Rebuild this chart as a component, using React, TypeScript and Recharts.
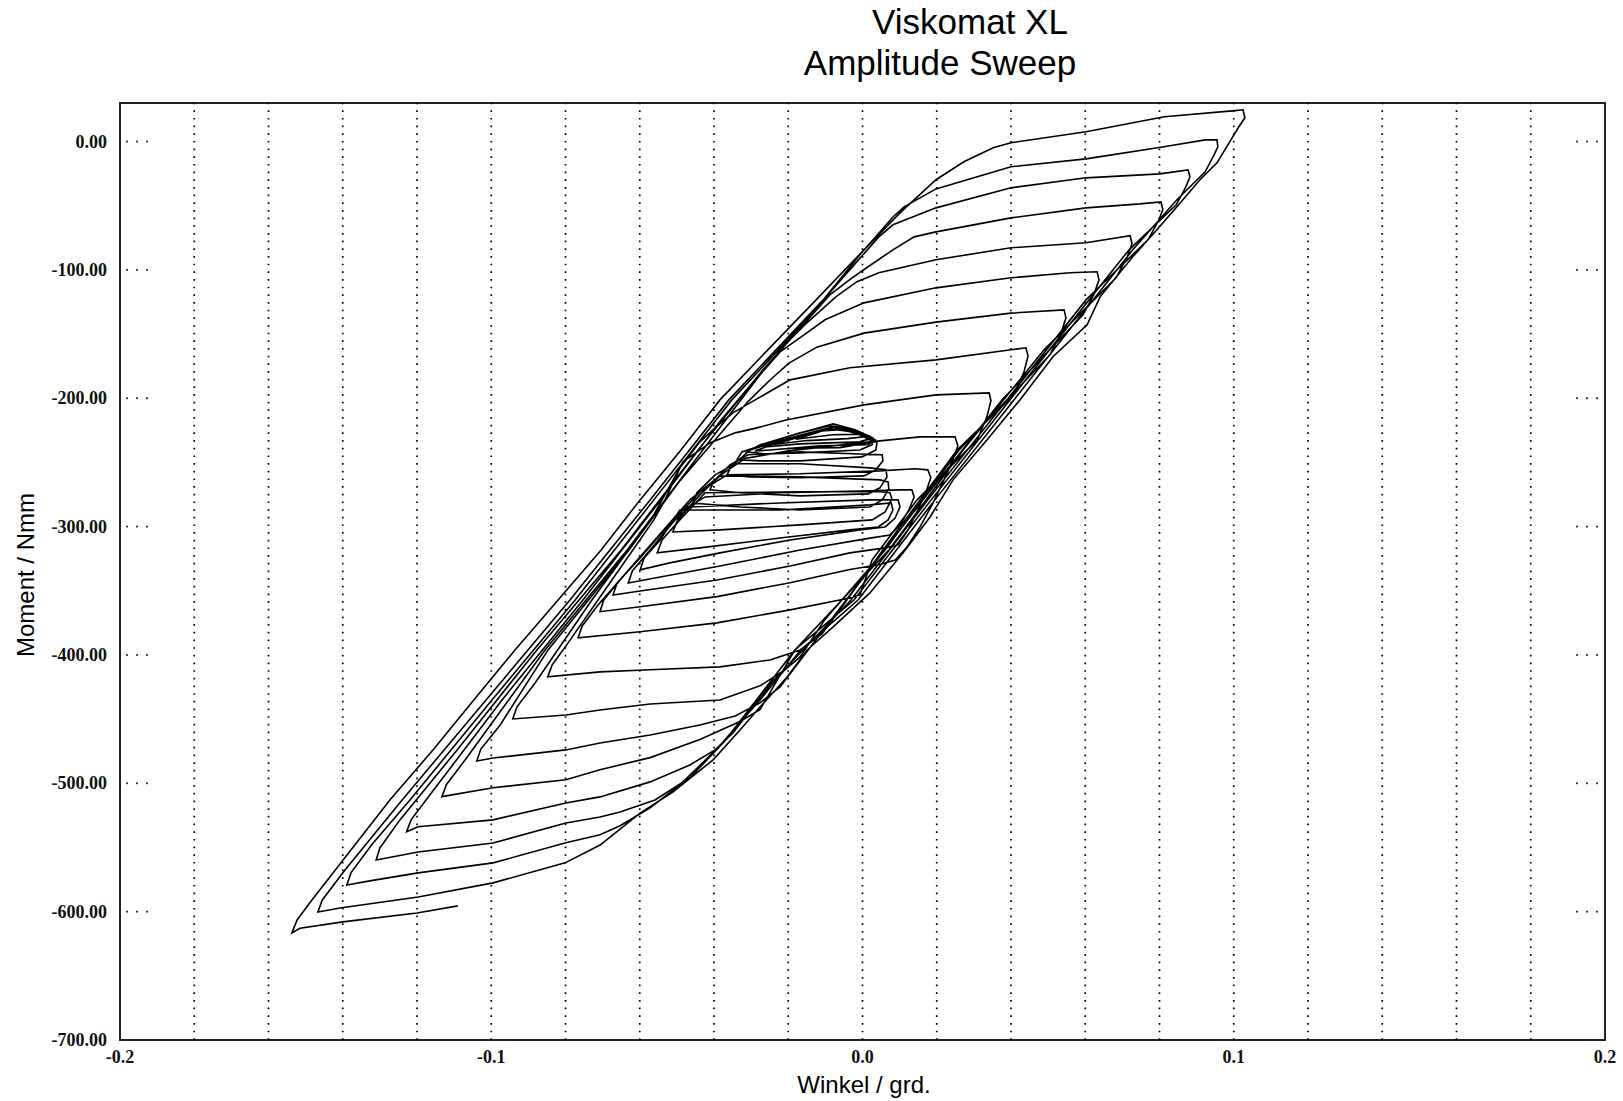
import { LineChart, Line, XAxis, YAxis, ReferenceLine, ReferenceArea } from "recharts"

// Winkel (grd.) / Moment (Nmm) pairs, one array per cycle
type Pt = [number, number]

const leadIn: Pt[] = [[-0.109, -595.5], [-0.12, -601.0], [-0.14, -608.0], [-0.1515, -612.9]]

const loop1: Pt[] = [
  [-0.1537, -616.6], [-0.1523, -606.5], [-0.1483, -590.9], [-0.1378, -551.9], [-0.1273, -513.0], [-0.1157, -474.0],
  [-0.1047, -435.1], [-0.0936, -396.1], [-0.082, -357.2], [-0.0704, -318.2], [-0.0599, -279.2], [-0.0489, -240.3],
  [-0.0384, -201.3], [-0.0255, -162.3], [-0.0125, -123.4], [0.0004, -84.4], [0.0101, -55.6], [0.0198, -29.8],
  [0.0273, -15.8], [0.0352, -4.9], [0.04, -1.0], [0.0602, 7.6], [0.0813, 19.3], [0.0996, 23.9], [0.1025, 24.7],
  [0.103, 18.5], [0.1012, 10.7], [0.0955, -16.6], [0.0909, -29.8], [0.0847, -50.9], [0.0793, -68.8], [0.0728, -89.8],
  [0.064, -121.0], [0.0605, -142.8], [0.0513, -167.7], [0.0424, -201.3], [0.0335, -232.5], [0.0244, -263.6],
  [0.0182, -292.5], [0.0109, -320.5], [0.002, -351.7], [-0.0079, -378.2], [-0.0149, -396.1], [-0.0203, -417.2],
  [-0.0276, -440.6], [-0.033, -458.5], [-0.0403, -481.9], [-0.0511, -506.8], [-0.0599, -523.2], [-0.0707, -548.1],
  [-0.0801, -562.0], [-0.0995, -577.6], [-0.1197, -588.6], [-0.1407, -597.2],
]

const loop2: Pt[] = [
  [-0.1467, -600.3], [-0.1455, -590.9], [-0.1394, -567.5], [-0.124, -513.0], [-0.1014, -435.1], [-0.0788, -357.2],
  [-0.0572, -279.2], [-0.036, -201.3], [-0.0106, -123.4], [-0.0007, -88.3], [0.0082, -58.8], [0.0112, -50.9],
  [0.0198, -36.9], [0.04, -19.7], [0.0602, -13.5], [0.0812, -4.1], [0.0923, 1.3], [0.0955, 1.3], [0.0957, -4.1],
  [0.0947, -10.4], [0.0923, -23.6], [0.0847, -45.4], [0.0728, -84.4], [0.0621, -123.4], [0.0408, -201.3],
  [0.0195, -279.2], [-0.0012, -357.2], [-0.0166, -396.1], [-0.0276, -435.1], [-0.0395, -474.0], [-0.0492, -501.2],
  [-0.0572, -519.1], [-0.0653, -533.1], [-0.0707, -540.1], [-0.0799, -546.4], [-0.0995, -562.0], [-0.1197, -569.8],
  [-0.1327, -576.0],
]

const loop3: Pt[] = [
  [-0.1389, -579.2], [-0.1378, -569.8], [-0.1322, -547.9], [-0.1219, -513.0], [-0.0998, -435.1], [-0.0774, -357.2],
  [-0.0562, -279.2], [-0.0352, -201.3], [-0.0176, -146.7], [-0.0034, -99.8], [0.0044, -74.3], [0.0082, -64.9],
  [0.0198, -51.7], [0.04, -36.1], [0.0602, -28.3], [0.0801, -25.2], [0.0877, -22.1], [0.0882, -27.5], [0.0871, -35.3],
  [0.0845, -49.3], [0.0718, -84.4], [0.061, -123.4], [0.0397, -201.3], [0.0185, -279.2], [-0.0023, -357.2],
  [-0.0182, -396.1], [-0.0286, -435.1], [-0.0373, -467.9], [-0.0465, -495.7], [-0.0559, -513.0], [-0.0653, -522.4],
  [-0.0707, -526.2], [-0.0799, -530.9], [-0.0995, -546.5], [-0.1197, -553.5],
]

const loop4: Pt[] = [
  [-0.131, -559.7], [-0.13, -550.4], [-0.1246, -528.5], [-0.1092, -474.0], [-0.0877, -396.1], [-0.065, -318.2],
  [-0.0443, -240.3], [-0.0268, -177.9], [-0.0088, -119.5], [-0.0028, -106.2], [0.0015, -97.6], [0.0082, -84.4],
  [0.0139, -74.3], [0.0198, -70.4], [0.04, -59.5], [0.0602, -51.7], [0.0747, -48.6], [0.0804, -47.0], [0.0809, -53.2],
  [0.0796, -62.5], [0.0769, -76.6], [0.0602, -123.4], [0.0389, -201.3], [0.0176, -279.2], [-0.0031, -357.2],
  [-0.0241, -420.4], [-0.0349, -460.7], [-0.0397, -474.0], [-0.0465, -485.7], [-0.0572, -498.9], [-0.0707, -510.6],
  [-0.0799, -515.3], [-0.0995, -528.5], [-0.1197, -533.9],
]

const loop5: Pt[] = [
  [-0.1228, -537.8], [-0.1216, -528.5], [-0.1165, -509.0], [-0.0971, -435.1], [-0.0753, -357.2], [-0.0543, -279.2],
  [-0.0381, -216.9], [-0.0209, -158.3], [-0.0155, -142.7], [-0.0071, -120.9], [-0.0015, -109.2], [0.0044, -102.2],
  [0.0198, -92.1], [0.04, -82.8], [0.0602, -78.9], [0.0721, -73.4], [0.0726, -79.7], [0.0712, -90.7], [0.0683, -106.2],
  [0.0489, -162.3], [0.0271, -240.3], [0.0071, -318.2], [-0.0182, -396.1], [-0.0276, -442.6], [-0.033, -451.9],
  [-0.0438, -465.9], [-0.0572, -480.0], [-0.0707, -489.4], [-0.0799, -497.2], [-0.0995, -503.5],
]

const loop6: Pt[] = [
  [-0.1133, -510.4], [-0.1121, -501.1], [-0.107, -481.6], [-0.0855, -396.1], [-0.0634, -318.2], [-0.043, -240.3],
  [-0.0276, -181.8], [-0.0222, -163.9], [-0.015, -149.1], [-0.0101, -138.9], [0.0004, -125.7], [0.0198, -114.0],
  [0.04, -106.2], [0.0559, -102.3], [0.0632, -101.5], [0.0637, -107.8], [0.0624, -118.7], [0.0594, -135.0],
  [0.0376, -201.3], [0.0163, -279.2], [-0.0044, -357.2], [-0.0222, -424.9], [-0.0276, -437.4], [-0.0343, -447.5],
  [-0.0438, -454.6], [-0.0572, -462.4], [-0.0707, -468.6], [-0.0799, -474.0], [-0.0995, -480.3],
]

const loop7: Pt[] = [
  [-0.1039, -482.6], [-0.1028, -473.3], [-0.0976, -454.6], [-0.0847, -396.1], [-0.0629, -318.2], [-0.0492, -264.4],
  [-0.0309, -202.8], [-0.0249, -185.8], [-0.0198, -172.6], [-0.0123, -160.2], [0.0004, -149.3], [0.0198, -140.7],
  [0.04, -133.7], [0.0543, -131.2], [0.0548, -137.4], [0.0535, -149.1], [0.0505, -166.2], [0.026, -240.3],
  [0.0061, -318.2], [-0.0101, -372.3], [-0.0168, -401.5], [-0.0209, -411.6], [-0.0276, -424.1], [-0.0384, -435.1],
  [-0.0572, -438.2], [-0.0707, -442.9], [-0.0799, -446.8],
]

const loop8: Pt[] = [
  [-0.0942, -449.9], [-0.0931, -440.6], [-0.0882, -421.9], [-0.0729, -357.2], [-0.057, -294.8], [-0.0492, -254.3],
  [-0.0438, -234.0], [-0.0397, -223.1], [-0.0349, -211.4], [-0.0303, -203.6], [-0.0195, -185.7], [-0.0034, -176.3],
  [0.0198, -170.1], [0.04, -162.3], [0.044, -160.7], [0.0446, -167.0], [0.0435, -179.5], [0.0408, -197.4],
  [0.0255, -240.3], [0.0055, -318.2], [-0.0061, -364.9], [-0.0109, -383.6], [-0.0168, -396.1], [-0.0249, -403.9],
  [-0.0384, -409.3], [-0.0572, -411.6], [-0.0707, -413.2],
]

const loop9: Pt[] = [
  [-0.0848, -417.1], [-0.0836, -407.8], [-0.0793, -390.6], [-0.0675, -341.6], [-0.0562, -294.8], [-0.0532, -279.2],
  [-0.0484, -249.6], [-0.0411, -234.8], [-0.0343, -227.0], [-0.0284, -223.1], [-0.0206, -216.9], [0.0004, -205.2],
  [0.0198, -197.4], [0.0341, -195.8], [0.0346, -202.0], [0.0335, -214.5], [0.0309, -232.5], [0.0147, -279.2],
  [0.0026, -326.0], [-0.0007, -353.2], [-0.0034, -355.6], [-0.0195, -364.9], [-0.0392, -375.0], [-0.0599, -382.0],
]

const loop10: Pt[] = [
  [-0.0766, -386.7], [-0.0755, -377.4], [-0.0712, -361.0], [-0.0599, -323.5], [-0.0465, -279.2], [-0.0384, -260.3],
  [-0.0317, -247.0], [-0.0195, -240.8], [0.002, -234.0], [0.0155, -230.1], [0.0249, -230.1], [0.0257, -237.1],
  [0.0241, -249.6], [0.0217, -265.2], [0.019, -281.6], [0.0155, -300.3], [0.012, -315.9], [0.0088, -326.0],
  [0.0047, -329.6], [-0.0034, -333.5], [-0.0195, -343.7], [-0.0392, -354.6], [-0.0599, -362.4],
]

const loop11: Pt[] = [
  [-0.0707, -366.3], [-0.0697, -357.2], [-0.0653, -341.6], [-0.0545, -306.5], [-0.0438, -273.0], [-0.0365, -259.7],
  [-0.0168, -258.9], [0.0047, -256.6], [0.0141, -255.0], [0.0176, -255.8], [0.0184, -262.0], [0.0171, -272.9],
  [0.0149, -286.9], [0.0123, -302.5], [0.0096, -314.2], [0.0061, -316.6], [-0.0034, -320.5], [-0.0195, -330.7],
  [-0.0392, -341.6], [-0.0599, -350.2],
]

const loop12: Pt[] = [
  [-0.0672, -353.3], [-0.0661, -343.9], [-0.0599, -324.4], [-0.0492, -288.6], [-0.0424, -276.9], [-0.0222, -273.7],
  [0.002, -272.2], [0.0101, -271.4], [0.0133, -271.4], [0.0139, -276.9], [0.0125, -287.0], [0.0101, -298.7],
  [0.0074, -306.5], [0.002, -309.0], [-0.0168, -318.3], [-0.0384, -330.7], [-0.0545, -339.3],
]

const loop13: Pt[] = [
  [-0.0631, -344.0], [-0.062, -334.6], [-0.0572, -318.3], [-0.0505, -294.8], [-0.0465, -284.7], [-0.0222, -281.6],
  [0.002, -279.2], [0.0096, -279.2], [0.0101, -284.7], [0.0088, -293.3], [0.0061, -300.3], [-0.0007, -302.6],
  [-0.0195, -310.4], [-0.0384, -320.5], [-0.0519, -328.3],
]

const loop14: Pt[] = [
  [-0.0599, -333.7], [-0.0588, -324.4], [-0.0545, -310.4], [-0.0492, -287.1], [-0.0222, -287.1], [0.002, -283.1],
  [0.0077, -281.6], [0.0082, -287.1], [0.0069, -294.8], [0.0042, -300.3], [-0.0034, -302.6], [-0.0222, -308.9],
  [-0.0438, -316.6],
]

const loop15: Pt[] = [
  [-0.0553, -320.5], [-0.054, -310.4], [-0.0492, -294.8], [-0.0424, -273.7], [-0.0168, -272.9], [0.0047, -272.9],
  [0.0074, -273.7], [0.0079, -278.4], [0.0061, -288.6], [0.0026, -294.8], [-0.0168, -298.7], [-0.0384, -302.6],
]

const loop16: Pt[] = [
  [-0.0511, -304.2], [-0.0498, -294.8], [-0.0438, -275.3], [-0.0384, -260.5], [-0.0168, -261.3], [0.0047, -263.6],
  [0.0069, -265.2], [0.0071, -270.6], [0.0053, -279.2], [0.002, -284.7], [-0.0168, -287.1], [-0.033, -284.7],
]

const loop17: Pt[] = [
  [-0.0457, -281.6], [-0.0446, -273.7], [-0.0397, -259.7], [-0.0343, -251.1], [-0.0168, -251.1], [0.002, -254.3],
  [0.0063, -255.8], [0.0066, -261.3], [0.0047, -269.8], [0.0015, -274.5], [-0.0168, -276.1], [-0.033, -273.7],
]

const loop18: Pt[] = [
  [-0.0411, -271.4], [-0.04, -264.4], [-0.0357, -251.9], [-0.0308, -244.1], [-0.0168, -241.8], [-0.0007, -243.4],
  [0.0053, -244.1], [0.0055, -248.8], [0.0036, -255.8], [0.0004, -260.5], [-0.0168, -262.0], [-0.0303, -261.3],
]

const loop19: Pt[] = [
  [-0.0365, -259.7], [-0.0354, -253.5], [-0.0303, -240.3], [-0.0195, -230.9], [-0.0079, -222.3], [-0.0007, -228.5],
  [0.0039, -234.8], [0.0036, -240.3], [-0.0001, -245.7], [-0.0168, -248.8], [-0.0276, -248.8],
]

const loop20: Pt[] = [
  [-0.0338, -248.0], [-0.0325, -241.8], [-0.0195, -229.3], [-0.0079, -220.0], [-0.002, -224.6], [0.0028, -230.9],
  [0.0026, -236.3], [-0.0007, -240.3], [-0.0168, -242.6], [-0.0263, -243.4],
]

// the dense, nearly filled wedge of the last small cycles
const lastCycles: Pt[] = [
  [-0.0311, -241.8], [-0.0276, -236.3], [-0.0168, -227.0], [-0.0088, -221.5], [-0.0034, -223.8], [0.0034, -232.4],
  [0.0015, -236.3], [-0.0114, -237.1], [-0.0249, -240.3], [-0.029, -241.1], [-0.0209, -232.4], [-0.0101, -224.6],
  [-0.0047, -223.1], [0.0026, -230.9], [-0.0007, -234.0], [-0.0168, -235.6], [-0.0263, -238.0], [-0.0195, -231.0],
  [-0.011, -225.5], [-0.006, -224.5], [0.002, -229.5], [-0.004, -231.5], [-0.015, -233.0], [-0.024, -236.0],
  [-0.016, -229.5], [-0.009, -224.0], [-0.0045, -225.5], [0.0005, -228.0], [-0.008, -228.5], [-0.018, -232.0],
  [-0.0125, -227.0], [-0.0075, -222.0], [-0.002, -226.5], [0.003, -234.0], [-0.006, -238.5], [-0.02, -239.0],
]

const cycles = [
  leadIn, loop1, loop2, loop3, loop4, loop5, loop6, loop7, loop8, loop9, loop10,
  loop11, loop12, loop13, loop14, loop15, loop16, loop17, loop18, loop19, loop20, lastCycles,
]

const xTicks = [-0.2, -0.1, 0, 0.1, 0.2]
const yTicks = [0, -100, -200, -300, -400, -500, -600, -700]
const gridX = [-0.18, -0.16, -0.14, -0.12, -0.1, -0.08, -0.06, -0.04, -0.02, 0, 0.02, 0.04, 0.06, 0.08, 0.1, 0.12, 0.14, 0.16, 0.18]

const data = cycles.flat().map(([x, y]) => ({ x, y }))

const tickFont = { fontFamily: "'Liberation Serif', 'Times New Roman', serif", fontWeight: 700, fontSize: 18, fill: '#111' }

function YTick({ y, payload }: any) {
  const v = payload.value as number
  return (
    <g>
      <text x={107} y={y} dy={6} textAnchor="end" {...tickFont}>{v.toFixed(2)}</text>
      {v > -700 && [127, 137, 147, 1577, 1587, 1597].map((dx) => (
        <rect key={dx} x={dx - 0.9} y={y - 0.9} width={1.8} height={1.8} fill="#222" />
      ))}
    </g>
  )
}

function XTick({ x, payload }: any) {
  const v = payload.value as number
  return (
    <text x={x} y={1063} textAnchor="middle" {...tickFont}>{v.toFixed(1)}</text>
  )
}

const sans = "'Liberation Sans', Arial, Helvetica, sans-serif"

export default function App() {
  return (
    <div style={{ position: 'absolute', left: 0, top: 0, width: 1623, height: 1101, background: '#fff' }}>
      <LineChart width={1623} height={1101} data={data} margin={{ top: 103, right: 18, bottom: 31, left: 60 }}>
        <XAxis type="number" dataKey="x" domain={[-0.2, 0.2]} ticks={xTicks} height={30}
          axisLine={false} tickLine={false} tick={<XTick />} allowDataOverflow />
        <YAxis type="number" domain={[-700, 30]} ticks={yTicks} width={60}
          axisLine={false} tickLine={false} tick={<YTick />} allowDataOverflow />
        {gridX.map((g) => (
          <ReferenceLine key={g} x={g} stroke="#000" strokeWidth={1.7} strokeDasharray="1.7 5.97" />
        ))}
        <ReferenceArea x1={-0.2} x2={0.2} y1={-700} y2={30} fill="none" stroke="#222" strokeWidth={2} ifOverflow="visible" />
        <Line dataKey="y" type="linear" stroke="#000" strokeWidth={1.6} dot={false} activeDot={false} isAnimationActive={false} />
      </LineChart>
      <svg width={1623} height={1101} style={{ position: 'absolute', left: 0, top: 0, pointerEvents: 'none' }}>
        <text x={970} y={34} textAnchor="middle" fontFamily={sans} fontSize={35} fill="#000">Viskomat XL</text>
        <text x={940} y={75} textAnchor="middle" fontFamily={sans} fontSize={35} fill="#000">Amplitude Sweep</text>
        <text x={864} y={1093} textAnchor="middle" fontFamily={sans} fontSize={24} fill="#000">Winkel / grd.</text>
        <text x={34} y={575} textAnchor="middle" fontFamily={sans} fontSize={24} fill="#000" transform="rotate(-90 34 575)">Moment / Nmm</text>
      </svg>
    </div>
  )
}
